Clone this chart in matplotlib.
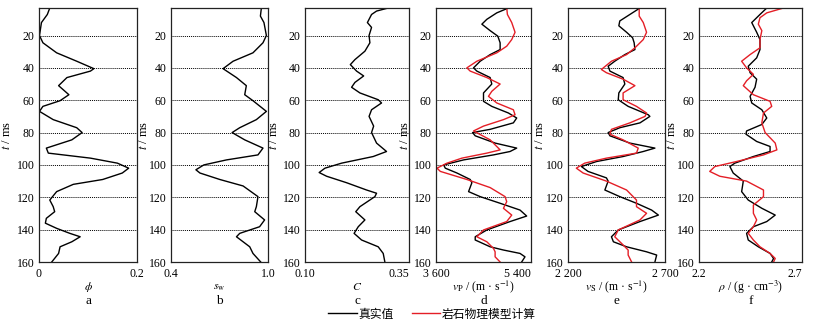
import matplotlib
matplotlib.use("Agg")
import matplotlib.pyplot as plt
from matplotlib.lines import Line2D

plt.rcParams['font.family'] = ['Liberation Serif', 'Noto Sans CJK SC']
plt.rcParams['mathtext.fontset'] = 'stix'

# ---------------- data (time in ms) ----------------
t_phi = [3, 7, 12, 20, 24.5, 30.7, 35.9, 40.5, 42, 46, 51, 56.6, 60.3, 63.8, 66.9, 72, 77, 80, 84.5, 89.6,
         92.7, 95.8, 98.9, 102, 105, 109, 112, 116.5, 121.7, 125.8, 128.9, 133, 136, 139.2, 142.3, 144.4,
         147.5, 150.6, 154.7, 160]
phi = [0.022, 0.017, 0.005, 0.001, 0.008, 0.036, 0.077, 0.112, 0.105, 0.057, 0.040, 0.061, 0.043, 0.008,
       0.001, 0.029, 0.077, 0.088, 0.067, 0.015, 0.019, 0.105, 0.160, 0.183, 0.170, 0.130, 0.070, 0.036,
       0.022, 0.029, 0.032, 0.015, 0.013, 0.036, 0.063, 0.084, 0.067, 0.043, 0.040, 0.026]

t_sw = [3, 8, 12, 20, 24.5, 30.7, 35.9, 40.5, 46, 51, 56.6, 60.3, 66.9, 72, 77, 80, 84.5, 89.6, 93.8, 96.9,
        100, 103, 105, 109, 113, 119.6, 125.8, 128.9, 134, 138.2, 142.3, 144.4, 147.5, 150.6, 154.7, 160]
sw = [0.959, 0.953, 0.975, 0.990, 0.969, 0.907, 0.784, 0.722, 0.805, 0.866, 0.856, 0.907, 0.990, 0.928,
      0.825, 0.778, 0.856, 0.969, 0.938, 0.743, 0.603, 0.554, 0.579, 0.702, 0.846, 0.938, 0.928, 0.918,
      0.979, 0.948, 0.825, 0.805, 0.846, 0.887, 0.907, 0.955]

t_c = [3, 4.9, 7, 12, 15, 20, 24.5, 29.7, 34.9, 38, 42, 45, 49, 52, 55.5, 59.7, 61.7, 65.9, 70, 76, 80,
       86.5, 91.7, 94.8, 98.9, 102, 104.7, 107, 111, 115.5, 117.5, 119.6, 125.8, 128.9, 134, 138.2, 142.3,
       146.4, 150.6, 154.7, 160]
clay = [0.300, 0.272, 0.260, 0.250, 0.260, 0.254, 0.256, 0.244, 0.220, 0.209, 0.224, 0.241, 0.220, 0.212,
        0.232, 0.276, 0.284, 0.260, 0.254, 0.265, 0.260, 0.272, 0.296, 0.264, 0.188, 0.148, 0.134, 0.152,
        0.200, 0.248, 0.272, 0.268, 0.232, 0.222, 0.244, 0.228, 0.218, 0.236, 0.276, 0.288, 0.292]

t_vp_true = [3, 6, 10, 13, 17, 20.4, 24.5, 28.7, 31.8, 35.9, 40, 42, 46, 50, 55.5, 60.7, 63.8, 67.9, 71, 74,
             78, 80, 82, 86.5, 89.6, 91.7, 93.8, 96.9, 100, 102, 105, 109, 111, 116.5, 119.6, 123.7, 127.9,
             131.6, 135, 140.2, 144.4, 146.4, 150.6, 152.6, 154.7, 156.8, 160]
vp_true = [4972, 4752, 4563, 4469, 4626, 4771, 4815, 4815, 4626, 4437, 4311, 4374, 4626, 4657, 4500, 4500,
           4657, 4972, 5129, 5066, 4626, 4292, 4343, 4720, 5129, 5003, 4689, 4122, 3745, 3776, 3997, 4248,
           4280, 4217, 4437, 4815, 5192, 5318, 5003, 4563, 4343, 4343, 4626, 4878, 5192, 5286, 5223]

t_vp_model = [3, 7, 12, 18, 22.5, 26.6, 30.7, 35.9, 40, 42, 46, 50, 54.5, 57.6, 61.7, 65.9, 69, 72, 76, 79,
              84.5, 90.7, 92.7, 95.8, 98.9, 102, 104, 109, 114, 119.6, 122.7, 126.8, 131, 135, 140.2, 144.4,
              147.5, 151.6, 153.7, 156.8, 160]
vp_model = [4940, 4953, 5035, 5098, 5035, 4940, 4752, 4374, 4185, 4248, 4563, 4815, 4657, 4594, 4752, 5066,
            5098, 4878, 4500, 4311, 4626, 4815, 4563, 4091, 3808, 3619, 3682, 4185, 4626, 4909, 4940, 4878,
            5035, 4940, 4500, 4374, 4563, 4689, 4720, 4720, 4815]

t_vs_true = [3, 7, 11, 14, 18, 21.4, 24.5, 28.7, 31.8, 35.9, 39, 42, 46, 50, 55.5, 59.7, 63.8, 69, 70, 74,
             77, 80, 82, 86.5, 89.6, 91.7, 94.8, 97.9, 101, 104, 108, 110, 115.5, 119.6, 123.7, 127.9, 131,
             135, 140.2, 144.4, 147.5, 150.6, 153.7, 155.7, 160]
vs_true = [2571, 2519, 2467, 2462, 2502, 2533, 2541, 2545, 2493, 2441, 2407, 2416, 2484, 2493, 2462, 2459,
           2510, 2614, 2622, 2571, 2467, 2407, 2416, 2519, 2648, 2588, 2484, 2347, 2269, 2303, 2398, 2407,
           2390, 2467, 2553, 2631, 2666, 2571, 2459, 2424, 2434, 2502, 2605, 2657, 2648]

t_vs_model = [3, 8, 12, 18, 22.5, 27.6, 31.8, 35.9, 41, 43, 47, 51, 55.5, 59.7, 63.8, 67.9, 70, 74, 78, 81,
              84.5, 89.6, 92.7, 95.8, 98.9, 102, 105, 110, 115.5, 121.7, 125.8, 129.9, 134, 140.2, 144.4,
              148.5, 152.6, 155.7, 160]
vs_model = [2567, 2567, 2588, 2605, 2588, 2545, 2502, 2424, 2372, 2398, 2484, 2545, 2484, 2484, 2553, 2605,
            2597, 2519, 2424, 2416, 2484, 2562, 2553, 2398, 2286, 2243, 2278, 2398, 2502, 2553, 2553, 2605,
            2571, 2459, 2441, 2476, 2510, 2510, 2528]

t_rho_true = [3, 7, 12, 18, 22.5, 28.7, 33.8, 39, 43, 47, 52, 57.6, 61.7, 65.9, 71, 75, 79, 81, 85.5, 88.6,
              91.7, 94.8, 98.9, 101, 105, 110, 116.5, 121.7, 126.8, 131, 135, 138.2, 142.3, 146.4, 150.6,
              154.7, 157.8, 160]
rho_true = [2.529, 2.496, 2.456, 2.480, 2.496, 2.496, 2.480, 2.439, 2.448, 2.480, 2.472, 2.448, 2.456, 2.505,
            2.529, 2.505, 2.431, 2.428, 2.480, 2.545, 2.545, 2.464, 2.374, 2.350, 2.366, 2.415, 2.407, 2.439,
            2.505, 2.570, 2.529, 2.464, 2.431, 2.439, 2.488, 2.545, 2.562, 2.553]

t_rho_model = [3, 6, 9, 13, 17, 22.5, 27.6, 31.8, 35.9, 40, 44, 48, 51, 56.6, 60.7, 63.8, 67.9, 74, 80, 86.5,
               90.7, 93.8, 97.9, 101, 104, 107, 110, 115.5, 119.6, 124.8, 129.9, 134, 138.2, 142.3, 146.4,
               150.6, 154.7, 157.8, 160]
rho_model = [2.610, 2.529, 2.496, 2.488, 2.505, 2.496, 2.496, 2.448, 2.407, 2.431, 2.464, 2.431, 2.415, 2.464,
             2.545, 2.553, 2.513, 2.505, 2.521, 2.570, 2.578, 2.513, 2.382, 2.277, 2.252, 2.301, 2.431, 2.513,
             2.513, 2.464, 2.464, 2.480, 2.464, 2.439, 2.464, 2.496, 2.545, 2.570, 2.562]

xlims = [(0, 0.2), (0.4, 1.0), (0.10, 0.35), (3600, 5400), (2200, 2700), (2.2, 2.7)]
xticklabels = [["0", "0.2"], ["0.4", "1.0"], ["0.10", "0.35"], ["3 600", "5 400"],
               ["2 200", "2 700"], ["2.2", "2.7"]]
xlabels = [r"$\phi$", r"$s_{\rm w}$", r"$C$", r"$v_{\rm P}$ / (m · s$^{-1}$)",
           r"$v_{\rm S}$ / (m · s$^{-1}$)", r"$\rho$ / (g · cm$^{-3}$)"]
letters = ["a", "b", "c", "d", "e", "f"]
yticks = [20, 40, 60, 80, 100, 120, 140, 160]
legend_labels = ["真实值", "岩石物理模型计算"]

series_true = [(t_phi, phi), (t_sw, sw), (t_c, clay), (t_vp_true, vp_true), (t_vs_true, vs_true),
               (t_rho_true, rho_true)]
series_model = [None, None, None, (t_vp_model, vp_model), (t_vs_model, vs_model),
                (t_rho_model, rho_model)]

# ---------------- layout ----------------
W, H = 818, 324
fig = plt.figure(figsize=(W / 100, H / 100), dpi=100)
lefts = [39, 171, 305, 436, 568, 699]
widths = [98, 97, 104, 95, 97, 103]
ylab_off = [-26, -21, -25, -25, -22, -21]
tick_ha = [("center", "center"), ("center", "center"), ("center", "right"), ("center", "right"),
           ("center", "center"), ("center", "right")]
top_px, bot_px = 8, 262

for i in range(6):
    ax = fig.add_axes([lefts[i] / W, 1 - bot_px / H, widths[i] / W, (bot_px - top_px) / H])
    tt, vv = series_true[i]
    ax.plot(vv, tt, color='black', lw=1.0)
    if series_model[i] is not None:
        tm, vm = series_model[i]
        ax.plot(vm, tm, color='#e41e26', lw=1.0)
    ax.set_xlim(*xlims[i])
    ax.set_ylim(160, 3)
    ax.set_xticks(list(xlims[i]))
    ax.set_xticklabels(xticklabels[i])
    ax.set_yticks(yticks)
    ax.tick_params(length=0, labelsize=8.5)
    ax.tick_params(axis='y', pad=3)
    ax.tick_params(axis='x', pad=4.5)
    for lab, ha in zip(ax.get_xticklabels(), tick_ha[i]):
        lab.set_ha(ha)
    for y in yticks[:-1]:
        ax.axhline(y, color='black', lw=0.7, ls=(0, (1, 1)), zorder=0)
    for s in ax.spines.values():
        s.set_linewidth(0.9)
        s.set_color('#222222')
    ax.set_ylabel(r"$t$ / ms", fontsize=9)
    ax.yaxis.set_label_coords(ylab_off[i] / widths[i], 0.5)
    cx = (lefts[i] + widths[i] / 2) / W
    fig.text(cx, 1 - 287 / H, xlabels[i], ha='center', va='center', fontsize=8.5)
    fig.text(cx, 1 - 301 / H, letters[i], ha='center', va='center', fontsize=9.5)

# legend
handles = [Line2D([], [], color='black', lw=1.0), Line2D([], [], color='#e41e26', lw=1.0)]
fig.legend(handles, legend_labels, loc='center', bbox_to_anchor=(432 / W, 1 - 314 / H), ncol=2,
           frameon=False, handlelength=2.4, handletextpad=0.1, columnspacing=1.6,
           prop={'family': ['Noto Sans CJK SC'], 'size': 8.5})

fig.savefig("out.png", dpi=100)
